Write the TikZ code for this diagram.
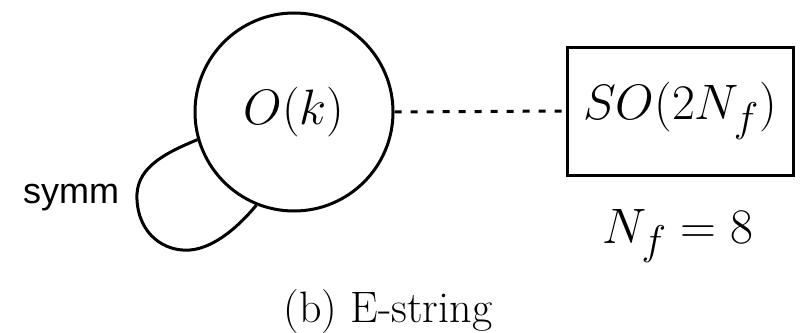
\documentclass[tikz,border=0pt]{standalone}
\usepackage{fontspec}
\newfontfamily\symmfont{Liberation Sans}
\begin{document}
\begin{tikzpicture}[x=0.5pt,y=-0.5pt,
  ln/.style={line width=1.5pt},
  gauge/.style={circle,draw,ln,minimum size=99pt,inner sep=0pt,font=\fontsize{28}{32}\selectfont},
  flav/.style={rectangle,draw,ln,minimum width=113pt,minimum height=64pt,inner sep=0pt,font=\fontsize{27.5}{32}\selectfont},
  lbl/.style={inner sep=0pt}]
\useasboundingbox (0,0) rectangle (806,332);
\node[gauge] (G) at (294,112) {$O(k)$};
\node[flav] (B) at (680,111) {$SO(2N_f)$};
\node[lbl,anchor=base,font=\fontsize{29}{33}\selectfont] (N) at (678,243) {$N_f=8$};
\node[lbl,anchor=base,font=\symmfont\fontsize{18}{22}\selectfont] (S) at (71,203) {symm};
\node[lbl,anchor=base,font=\fontsize{22}{26}\selectfont] (C) at (388,322) {(b) E-string};
\draw[ln,dash pattern=on 3.5pt off 4.5pt] (G.east) -- (B.west);
\draw[ln] (G.196) .. controls (160,155) and (135,170) .. (137,200)
  .. controls (139,235) and (165,252) .. (190,250)
  .. controls (215,248) and (240,225) .. (G.248);
\end{tikzpicture}
\end{document}
